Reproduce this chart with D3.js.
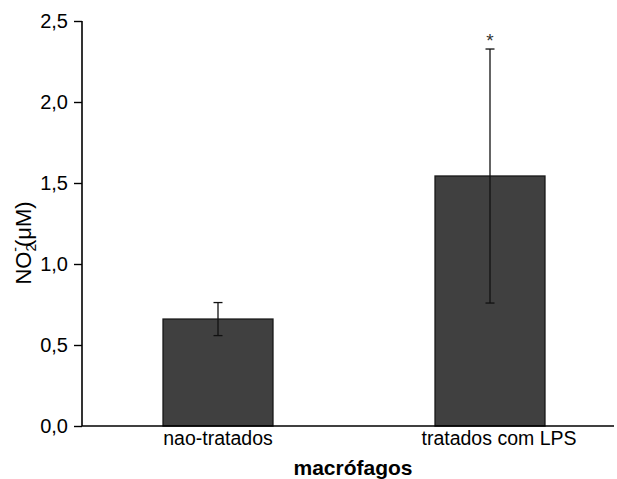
<!DOCTYPE html>
<html><head><meta charset="utf-8">
<script src="https://cdn.jsdelivr.net/npm/d3@7"></script>
<style>body{margin:0;background:#fff}svg{display:block}text{font-family:Arial,"Liberation Sans",sans-serif}</style>
</head><body>
<svg id="c" width="617" height="479"></svg>
<script>
const categories = ["nao-tratados", "tratados com LPS"];
const means = [0.66, 1.543];
const errors = [0.102, 0.784];
const yTicks = [0, 0.5, 1.0, 1.5, 2.0, 2.5];
const significance = ["", "*"];

const FF = "Arial, 'Liberation Sans', sans-serif";
const svg = d3.select("#c");
const x = d3.scaleBand().domain(categories).range([82, 626]).padding(0);
const y = d3.scaleLinear().domain([0, 2.5]).range([426, 21]);
const fmt = d => d3.format(".1f")(d).replace(".", ",");
const barW = x.bandwidth() * 0.404;

// bars
svg.selectAll("rect.bar").data(categories).join("rect")
  .attr("x", d => x(d) + x.bandwidth()/2 - barW/2)
  .attr("width", barW)
  .attr("y", (d,i) => y(means[i]))
  .attr("height", (d,i) => y(0) - y(means[i]))
  .attr("fill", "#404040").attr("stroke", "#1a1a1a").attr("stroke-width", 1.4);

// error bars
const eb = svg.append("g").attr("stroke", "#111").attr("stroke-width", 1.3);
categories.forEach((c, i) => {
  const cx = x(c) + x.bandwidth()/2;
  eb.append("line").attr("x1", cx).attr("x2", cx).attr("y1", y(means[i]+errors[i])).attr("y2", y(means[i]-errors[i]));
  eb.append("line").attr("x1", cx-4.5).attr("x2", cx+4.5).attr("y1", y(means[i]+errors[i])).attr("y2", y(means[i]+errors[i]));
  eb.append("line").attr("x1", cx-4.5).attr("x2", cx+4.5).attr("y1", y(means[i]-errors[i])).attr("y2", y(means[i]-errors[i]));
  if (significance[i]) {
    svg.append("text").attr("x", cx).attr("y", y(means[i]+errors[i]) - 2)
      .attr("text-anchor", "middle").attr("font-size", 19).attr("fill", "#333").text(significance[i]);
  }
});

// y axis
const yAxis = svg.append("g").attr("transform", "translate(82,0)")
  .call(d3.axisLeft(y).tickValues(yTicks).tickFormat(fmt).tickSize(8).tickPadding(6));
yAxis.select(".domain").attr("d", `M0,${y(2.5)}V${y(0)}`).attr("stroke-width", 1.6);
yAxis.selectAll(".tick line").attr("stroke-width", 1.4);
yAxis.selectAll(".tick text").attr("font-size", 20).attr("font-family", FF).attr("fill", "#000");

// x axis
const xAxis = svg.append("g").attr("transform", `translate(0,${y(0)})`)
  .call(d3.axisBottom(x).tickSize(0).tickPadding(5));
xAxis.select(".domain").attr("d", "M82,0H614").attr("stroke-width", 1.6);
xAxis.selectAll(".tick text").attr("font-size", 19.5).attr("font-family", FF).attr("fill", "#000")
  .attr("dx", (d,i) => i === 1 ? 9 : 0);

// axis titles
svg.append("text").attr("x", 353).attr("y", 475).attr("text-anchor", "middle")
  .attr("font-size", 21).attr("font-weight", "bold").text("macrófagos");

const yl = svg.append("text").attr("transform", "translate(31,243) rotate(-90)")
  .attr("text-anchor", "middle").attr("font-size", 22);
yl.append("tspan").text("NO");
yl.append("tspan").attr("font-size", 14).attr("dy", 5).text("2");
yl.append("tspan").attr("font-size", 14).attr("dx", -8).attr("dy", -16).text("-");
yl.append("tspan").attr("font-size", 22).attr("dy", 11).text("(μM)");
</script>
</body></html>
